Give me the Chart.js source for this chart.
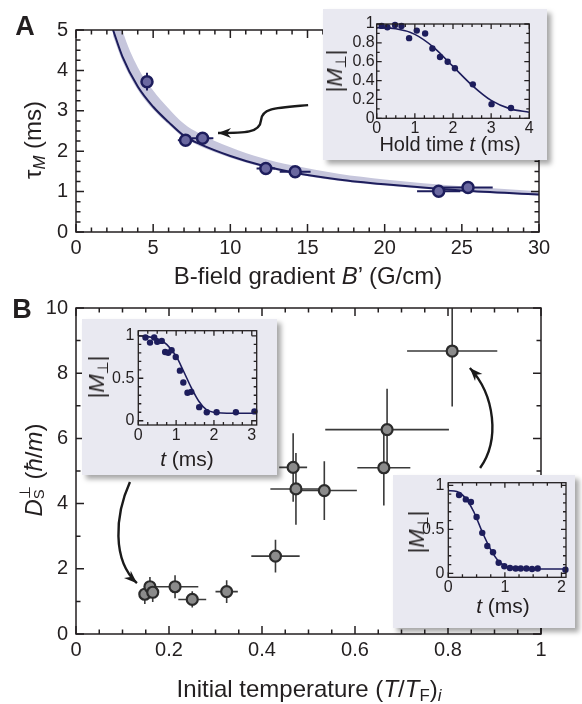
<!DOCTYPE html>
<html>
<head>
<meta charset="utf-8">
<script src="https://cdn.jsdelivr.net/npm/chart.js@4.4.0/dist/chart.umd.min.js"></script>
<style>
body { margin: 0; background: #fff; }
#fig { position: relative; width: 582px; height: 704px; overflow: hidden; font-family: 'Liberation Sans', Arial, sans-serif; color: #231f20; }
canvas { position: absolute; }
.inset { position: absolute; background: #e9e9f1; box-shadow: 4px 4px 5px rgba(0,0,0,0.35); }
.txt { position: absolute; white-space: nowrap; transform: translate(-50%, -50%); line-height: 1; }
.rot { transform: translate(-50%, -50%) rotate(-90deg); }
.panel { position: absolute; font-weight: bold; font-size: 27px; transform: translate(-50%, -50%); line-height: 1; }
sub { font-size: 0.7em; vertical-align: -0.25em; line-height: 0; }
.ss { display: inline-block; vertical-align: -0.15em; font-size: 0.62em; line-height: 0.95; text-align: left; }
.ss span { display: block; }
</style>
</head>
<body>
<div id="fig">
  <canvas id="chartA" style="left:0;top:0"></canvas>
  <canvas id="chartB" style="left:0;top:290px"></canvas>

  <div class="panel" style="left:25px;top:26px">A</div>
  <div class="panel" style="left:22px;top:309px">B</div>

  <div class="txt rot" style="left:33px;top:140px;font-size:24px">τ<sub><i>M</i></sub> (ms)</div>
  <div class="txt" style="left:308px;top:276px;font-size:24px">B-field gradient <i>B</i>’ (G/cm)</div>
  <div class="txt rot" style="left:32px;top:470px;font-size:24px"><i>D</i><span class="ss"><span>⊥</span><span>S</span></span> (<i>ħ</i>/<i>m</i>)</div>
  <div class="txt" style="left:309px;top:689px;font-size:24px">Initial temperature (<i>T</i>/<i>T</i><sub>F</sub>)<sub><i>i</i></sub></div>

  <div class="inset" style="left:323px;top:9px;width:224px;height:151px"></div>
  <canvas id="insetA" style="left:323px;top:9px"></canvas>
  <div class="txt rot" style="left:335px;top:71px;font-size:22px">|<i>M</i><sub>⊥</sub>|</div>
  <div class="txt" style="left:450px;top:144px;font-size:20px">Hold time <i>t</i> (ms)</div>

  <div class="inset" style="left:82px;top:319px;width:195px;height:156px"></div>
  <canvas id="insetB1" style="left:82px;top:319px"></canvas>
  <div class="txt rot" style="left:97px;top:377px;font-size:22px">|<i>M</i><sub>⊥</sub>|</div>
  <div class="txt" style="left:187px;top:458px;font-size:21px"><i>t</i> (ms)</div>

  <div class="inset" style="left:393px;top:475px;width:182px;height:153px"></div>
  <canvas id="insetB2" style="left:393px;top:475px"></canvas>
  <div class="txt rot" style="left:417px;top:532px;font-size:22px">|<i>M</i><sub>⊥</sub>|</div>
  <div class="txt" style="left:503px;top:605px;font-size:21px"><i>t</i> (ms)</div>
</div>

<script>
// Panel A: decay time vs field gradient
const gradB    = [4.6, 7.1, 8.2, 12.3, 14.2, 23.5, 25.4];
const gradBErr = [0.3, 0.5, 0.7, 0.6, 1.0, 1.4, 1.6];
const tauM     = [3.72, 2.27, 2.32, 1.57, 1.49, 1.01, 1.10];
const tauMErr  = [0.22, 0.14, 0.1, 0.06, 0.06, 0.06, 0.06];
const fitGradB = [2.4, 3, 4, 5, 6, 7, 8, 10, 12, 14, 17, 20, 25, 30];
const fitTau   = [5.0, 4.35, 3.6, 3.1, 2.72, 2.38, 2.18, 1.88, 1.65, 1.48, 1.3, 1.18, 1.03, 0.93];
const bandHi   = [5.9, 5.0, 4.08, 3.5, 3.06, 2.68, 2.44, 2.1, 1.84, 1.65, 1.44, 1.3, 1.13, 1.01];
const bandLo   = [4.85, 4.24, 3.52, 3.03, 2.66, 2.33, 2.13, 1.84, 1.62, 1.45, 1.27, 1.15, 1.0, 0.9];
const ticksAx  = [0, 5, 10, 15, 20, 25, 30];
const ticksAy  = [0, 1, 2, 3, 4, 5];

// Inset A: magnetization vs hold time
const holdT    = [0.13, 0.28, 0.48, 0.65, 0.85, 1.05, 1.27, 1.46, 1.66, 1.86, 2.05, 2.52, 3.01, 3.52];
const magA     = [0.98, 0.965, 0.99, 0.98, 0.85, 0.93, 0.90, 0.74, 0.65, 0.60, 0.53, 0.36, 0.15, 0.11];
const fitHoldT = [0, 0.5, 1, 1.5, 2, 2.5, 3, 3.5, 4];
const fitMagA  = [0.96, 0.95, 0.89, 0.75, 0.55, 0.35, 0.19, 0.10, 0.065];
const ticksIAx = [0, 1, 2, 3, 4];
const ticksIAy = [0, 0.2, 0.4, 0.6, 0.8, 1];

// Panel B: spin diffusivity vs initial temperature
const tempTi   = [0.148, 0.159, 0.165, 0.213, 0.250, 0.324, 0.429, 0.467, 0.473, 0.534, 0.662, 0.669, 0.809];
const tempErr  = [0.01, 0.012, 0.01, 0.05, 0.03, 0.024, 0.052, 0.03, 0.055, 0.07, 0.057, 0.133, 0.097];
const diffDs   = [1.22, 1.45, 1.28, 1.45, 1.06, 1.30, 2.39, 5.11, 4.45, 4.40, 5.10, 6.27, 8.68];
const diffErr  = [0.3, 0.3, 0.3, 0.35, 0.25, 0.35, 0.5, 1.05, 1.1, 0.9, 1.16, 1.25, 1.7];
const ticksBx  = [0, 0.2, 0.4, 0.6, 0.8, 1];
const ticksBy  = [0, 2, 4, 6, 8, 10];

// Inset B1 (cold point)
const tB1      = [0.19, 0.31, 0.42, 0.50, 0.62, 0.71, 0.79, 0.88, 0.99, 1.10, 1.19, 1.30, 1.40, 1.61, 1.81, 2.07, 2.58, 3.07];
const mB1      = [0.98, 0.92, 0.98, 0.93, 0.94, 0.81, 0.80, 0.83, 0.75, 0.59, 0.45, 0.33, 0.34, 0.16, 0.10, 0.10, 0.10, 0.11];
const fitTB1   = [0, 0.25, 0.5, 0.75, 1.0, 1.2, 1.4, 1.6, 1.8, 2.0, 2.5, 3.13];
const fitMB1   = [1.0, 0.99, 0.965, 0.9, 0.76, 0.58, 0.39, 0.23, 0.13, 0.1, 0.088, 0.088];
const ticksB1x = [0, 1, 2, 3];

// Inset B2 (hot point)
const tB2      = [0.19, 0.31, 0.40, 0.50, 0.60, 0.69, 0.79, 0.89, 0.99, 1.09, 1.19, 1.28, 1.38, 1.48, 1.58, 2.07];
const mB2      = [0.89, 0.84, 0.81, 0.64, 0.46, 0.31, 0.24, 0.12, 0.08, 0.06, 0.055, 0.055, 0.055, 0.05, 0.055, 0.04];
const fitTB2   = [0, 0.15, 0.3, 0.45, 0.6, 0.75, 0.9, 1.05, 1.2, 1.5, 2.08];
const fitMB2   = [0.94, 0.93, 0.86, 0.70, 0.47, 0.27, 0.13, 0.07, 0.055, 0.05, 0.05];
const ticksB2x = [0, 1, 2];
const ticksIBy = [0, 0.5, 1];

const FONT = "'Liberation Sans', Arial, sans-serif";
const INK = '#231f20';
const NAVY = '#1d1d5c';

function pts(xs, ys) { return xs.map((x, i) => ({ x: x, y: ys[i] })); }

// box frame with inward ticks on all four sides
function framePlugin(o) {
    return {
        id: 'frame',
        afterDatasetsDraw(chart) {
            const { ctx, chartArea: a, scales: { x, y } } = chart;
            ctx.save();
            ctx.strokeStyle = INK;
            ctx.lineWidth = o.width;
            ctx.strokeRect(a.left, a.top, a.right - a.left, a.bottom - a.top);
            ctx.beginPath();
            const each = (scale, minor, major, fn) => {
                for (let k = Math.ceil(scale.min / minor - 1e-9); k * minor <= scale.max + 1e-9; k++) {
                    const v = k * minor;
                    const r = v / major;
                    fn(scale.getPixelForValue(v), Math.abs(r - Math.round(r)) < 1e-6 ? o.major : o.minor);
                }
            };
            each(x, o.xMinor, o.xMajor, (px, len) => {
                ctx.moveTo(px, a.bottom); ctx.lineTo(px, a.bottom - len);
                ctx.moveTo(px, a.top); ctx.lineTo(px, a.top + len);
            });
            each(y, o.yMinor, o.yMajor, (py, len) => {
                ctx.moveTo(a.left, py); ctx.lineTo(a.left + len, py);
                ctx.moveTo(a.right, py); ctx.lineTo(a.right - len, py);
            });
            ctx.stroke();
            ctx.restore();
        }
    };
}

function errPlugin(color, width) {
    return {
        id: 'errbars',
        beforeDatasetDraw(chart, args) {
            const ds = chart.data.datasets[args.index];
            if (!ds.errX) return;
            const { ctx, chartArea: a, scales: { x, y } } = chart;
            ctx.save();
            ctx.beginPath();
            ctx.rect(a.left, a.top, a.right - a.left, a.bottom - a.top);
            ctx.clip();
            ctx.strokeStyle = color;
            ctx.lineWidth = width;
            ds.data.forEach((p, i) => {
                const px = x.getPixelForValue(p.x), py = y.getPixelForValue(p.y);
                ctx.beginPath();
                ctx.moveTo(x.getPixelForValue(p.x - ds.errX[i]), py);
                ctx.lineTo(x.getPixelForValue(p.x + ds.errX[i]), py);
                ctx.moveTo(px, y.getPixelForValue(p.y - ds.errY[i]));
                ctx.lineTo(px, y.getPixelForValue(p.y + ds.errY[i]));
                ctx.stroke();
            });
            ctx.restore();
        }
    };
}

// curved pointer arrows, given as bezier points in data units
function arrowPlugin(arrows) {
    return {
        id: 'arrows',
        afterDatasetsDraw(chart) {
            const { ctx, scales: { x, y } } = chart;
            const P = p => [x.getPixelForValue(p[0]), y.getPixelForValue(p[1])];
            ctx.save();
            ctx.strokeStyle = '#1a1a1a';
            ctx.fillStyle = '#1a1a1a';
            ctx.lineWidth = 2.4;
            arrows.forEach(path => {
                const q = path.map(P);
                ctx.beginPath();
                ctx.moveTo(q[0][0], q[0][1]);
                for (let i = 1; i + 2 < q.length; i += 3) {
                    ctx.bezierCurveTo(q[i][0], q[i][1], q[i + 1][0], q[i + 1][1], q[i + 2][0], q[i + 2][1]);
                }
                ctx.stroke();
                const tip = q[q.length - 1], prev = q[q.length - 2];
                const ang = Math.atan2(tip[1] - prev[1], tip[0] - prev[0]);
                const c = Math.cos(ang), s = Math.sin(ang), L = 13, W = 5;
                ctx.beginPath();
                ctx.moveTo(tip[0], tip[1]);
                ctx.lineTo(tip[0] - L * c + W * s, tip[1] - L * s - W * c);
                ctx.lineTo(tip[0] - L * 0.7 * c, tip[1] - L * 0.7 * s);
                ctx.lineTo(tip[0] - L * c - W * s, tip[1] - L * s + W * c);
                ctx.closePath();
                ctx.fill();
            });
            ctx.restore();
        }
    };
}

function axis(a, fit) {
    return {
        type: 'linear',
        min: a.min,
        max: a.max,
        grid: { display: false, drawTicks: false },
        border: { display: false },
        afterBuildTicks: s => { s.ticks = a.ticks.map(v => ({ value: v })); },
        afterFit: fit,
        ticks: {
            font: { family: FONT, size: a.size },
            color: INK,
            padding: a.pad,
            autoSkip: false,
            maxRotation: 0,
            callback: v => String(v)
        }
    };
}

// w,h = canvas size; area = wanted plot rectangle inside the canvas
function makeChart(id, w, h, area, cfg) {
    const cv = document.getElementById(id);
    cv.width = w;
    cv.height = h;
    return new Chart(cv, {
        type: 'scatter',
        data: { datasets: cfg.datasets },
        options: {
            responsive: false,
            animation: false,
            devicePixelRatio: 1,
            layout: { padding: { left: 0, top: area.top, right: w - area.right, bottom: 0 } },
            plugins: { legend: { display: false }, tooltip: { enabled: false } },
            scales: {
                x: axis(cfg.x, s => { s.height = h - area.bottom; s.paddingLeft = 0; s.paddingRight = 0; }),
                y: axis(cfg.y, s => { s.width = area.left; s.paddingTop = 0; s.paddingBottom = 0; })
            }
        },
        plugins: [framePlugin(cfg.frame), errPlugin(cfg.errColor || INK, cfg.errWidth || 1.5), arrowPlugin(cfg.arrows || [])]
    });
}

function insetSets(tx, my, fx, fy) {
    return [
        { data: pts(tx, my), pointRadius: 3.2, pointBackgroundColor: NAVY, pointBorderWidth: 0, clip: false },
        { type: 'line', data: pts(fx, fy), borderColor: NAVY, borderWidth: 1.6, pointRadius: 0,
          cubicInterpolationMode: 'monotone', fill: false }
    ];
}

// Panel A
makeChart('chartA', 582, 290, { left: 76, top: 30, right: 539, bottom: 232 }, {
    x: { min: 0, max: 30, ticks: ticksAx, size: 20, pad: 4 },
    y: { min: 0, max: 5, ticks: ticksAy, size: 20, pad: 8 },
    frame: { width: 1.5, major: 8, minor: 4.5, xMajor: 5, xMinor: 1, yMajor: 1, yMinor: 0.25 },
    errColor: NAVY, errWidth: 2,
    arrows: [[[15.04, 3.14], [12.9, 3.07], [12.05, 3.07], [11.99, 2.77], [11.92, 2.45], [10.95, 2.45], [9.2, 2.45]]],
    datasets: [
        { data: pts(gradB, tauM), errX: gradBErr, errY: tauMErr, pointRadius: 5.5,
          pointBackgroundColor: '#6a68a0', pointBorderColor: NAVY, pointBorderWidth: 2.5, clip: false },
        { type: 'line', data: pts(fitGradB, fitTau), borderColor: NAVY, borderWidth: 2, pointRadius: 0,
          cubicInterpolationMode: 'monotone', fill: false },
        { type: 'line', data: pts(fitGradB, bandHi), borderWidth: 0, pointRadius: 0,
          cubicInterpolationMode: 'monotone', fill: '+1', backgroundColor: '#c6c6dc' },
        { type: 'line', data: pts(fitGradB, bandLo), borderWidth: 0, pointRadius: 0,
          cubicInterpolationMode: 'monotone', fill: false }
    ]
});

// Panel B
makeChart('chartB', 582, 414, { left: 76, top: 18, right: 541, bottom: 344 }, {
    x: { min: 0, max: 1, ticks: ticksBx, size: 20, pad: 4 },
    y: { min: 0, max: 10, ticks: ticksBy, size: 20, pad: 8 },
    frame: { width: 1.5, major: 8, minor: 4.5, xMajor: 0.2, xMinor: 0.05, yMajor: 2, yMinor: 1 },
    errColor: '#3a3a3a', errWidth: 1.6,
    arrows: [
        [[0.116, 4.66], [0.084, 3.65], [0.077, 2.27], [0.131, 1.56]],
        [[0.869, 5.09], [0.912, 5.95], [0.901, 7.33], [0.847, 8.16]]
    ],
    datasets: [
        { data: pts(tempTi, diffDs), errX: tempErr, errY: diffErr, pointRadius: 5.5,
          pointBackgroundColor: '#8b8b8b', pointBorderColor: '#2b2b2b', pointBorderWidth: 2.2, clip: false }
    ]
});

// Insets
makeChart('insetA', 224, 151, { left: 53.7, top: 15, right: 206.3, bottom: 109.3 }, {
    x: { min: 0, max: 4, ticks: ticksIAx, size: 16, pad: 1 },
    y: { min: 0, max: 1, ticks: ticksIAy, size: 16, pad: 2 },
    frame: { width: 1.3, major: 5, minor: 3, xMajor: 1, xMinor: 0.25, yMajor: 0.2, yMinor: 0.1 },
    datasets: insetSets(holdT, magA, fitHoldT, fitMagA)
});

makeChart('insetB1', 195, 156, { left: 56.3, top: 11.7, right: 174.7, bottom: 106 }, {
    x: { min: 0, max: 3.13, ticks: ticksB1x, size: 16, pad: 1 },
    y: { min: -0.05, max: 1.06, ticks: ticksIBy, size: 16, pad: 4 },
    frame: { width: 1.3, major: 5, minor: 3, xMajor: 1, xMinor: 0.25, yMajor: 0.5, yMinor: 0.1 },
    datasets: insetSets(tB1, mB1, fitTB1, fitMB1)
});

makeChart('insetB2', 182, 153, { left: 55.3, top: 7.7, right: 173, bottom: 102.3 }, {
    x: { min: 0, max: 2.08, ticks: ticksB2x, size: 16, pad: 1 },
    y: { min: -0.045, max: 1.03, ticks: ticksIBy, size: 16, pad: 4 },
    frame: { width: 1.3, major: 5, minor: 3, xMajor: 1, xMinor: 0.25, yMajor: 0.5, yMinor: 0.1 },
    datasets: insetSets(tB2, mB2, fitTB2, fitMB2)
});
</script>
</body>
</html>
